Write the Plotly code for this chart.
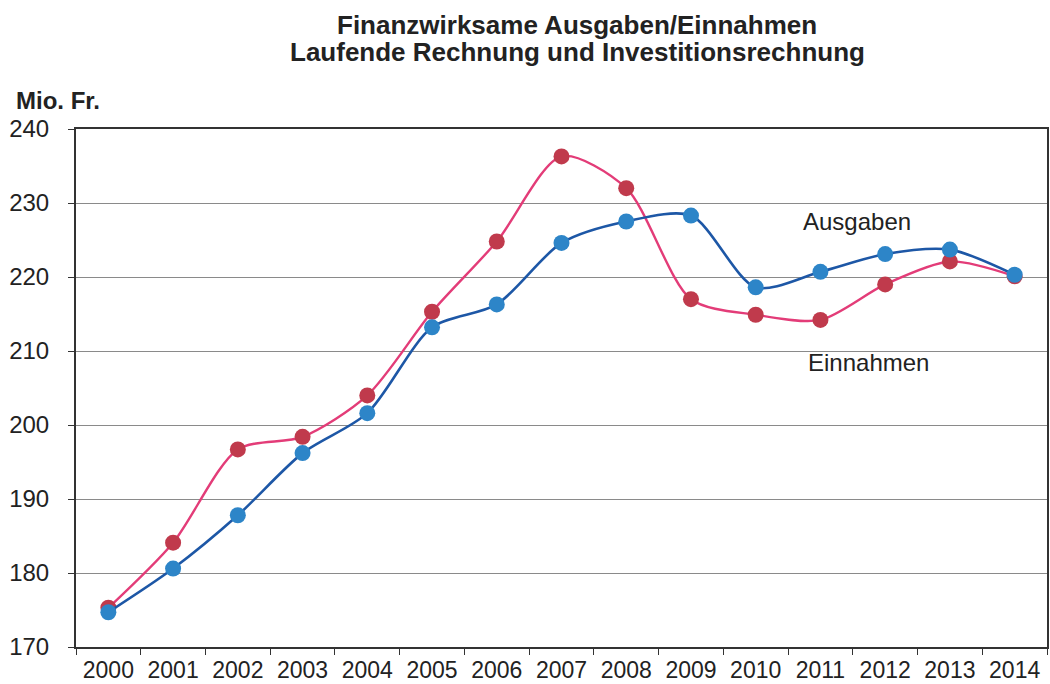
import plotly.graph_objects as go

years = [str(y) for y in range(2000, 2015)]
ausgaben = [174.7, 180.6, 187.8, 196.2, 201.6, 213.2, 216.3, 224.6, 227.5, 228.3,
            218.6, 220.7, 223.1, 223.7, 220.3]
einnahmen = [175.3, 184.1, 196.7, 198.4, 204.0, 215.3, 224.8, 236.3, 232.0, 217.0,
             214.9, 214.2, 219.0, 222.1, 220.1]
y_ticks = [170, 180, 190, 200, 210, 220, 230, 240]

fig = go.Figure()
fig.add_trace(go.Scatter(
    x=years, y=einnahmen, mode="lines+markers", name="Einnahmen",
    line=dict(color="#e33c78", width=2.4, shape="spline", smoothing=0.8),
    marker=dict(color="#c03a4c", size=16),
))
fig.add_trace(go.Scatter(
    x=years, y=ausgaben, mode="lines+markers", name="Ausgaben",
    line=dict(color="#1d57a6", width=2.6, shape="spline", smoothing=0.8),
    marker=dict(color="#2d85c8", size=16),
))

fig.update_layout(
    width=1050, height=684,
    margin=dict(l=76, r=3, t=129, b=37),
    paper_bgcolor="white", plot_bgcolor="white",
    showlegend=False,
    font=dict(family="Liberation Sans, Arial, sans-serif", color="#222"),
    xaxis=dict(
        type="category", tickson="boundaries", ticks="outside", ticklen=6,
        tickcolor="#333", showgrid=False, showline=True, linecolor="#333",
        linewidth=2, mirror=True, tickfont=dict(size=23, color="#222"),
        range=[-0.5, 14.5], automargin=False, ticklabelstandoff=1,
    ),
    yaxis=dict(
        range=[170, 240], tickvals=y_ticks, ticks="outside", ticklen=6,
        tickcolor="#333", showgrid=True, gridcolor="#8a8a8a", gridwidth=1,
        showline=True, linecolor="#333", linewidth=2, mirror=True,
        tickfont=dict(size=24, color="#222"), zeroline=False, automargin=False,
        ticklabelstandoff=14,
    ),
    annotations=[
        dict(text="<b>Finanzwirksame Ausgaben/Einnahmen</b>", xref="paper", yref="paper",
             x=0.516, y=1.201, xanchor="center", yanchor="middle", showarrow=False,
             font=dict(size=26, color="#222")),
        dict(text="<b>Laufende Rechnung und Investitionsrechnung</b>", xref="paper", yref="paper",
             x=0.516, y=1.1486, xanchor="center", yanchor="middle", showarrow=False,
             font=dict(size=26, color="#222")),
        dict(text="<b>Mio. Fr.</b>", xref="paper", yref="paper", x=-0.064, y=1.025,
             xanchor="left", yanchor="bottom", showarrow=False,
             font=dict(size=24, color="#222")),
        dict(text="Ausgaben", xref="paper", yref="y", x=0.804, y=227.5,
             xanchor="center", yanchor="middle", showarrow=False,
             font=dict(size=24, color="#222")),
        dict(text="Einnahmen", xref="paper", yref="y", x=0.816, y=208.4,
             xanchor="center", yanchor="middle", showarrow=False,
             font=dict(size=24, color="#222")),
    ],
)

fig.write_html("out.html", config={"displayModeBar": False},
               post_script="document.body.style.margin='0';")
